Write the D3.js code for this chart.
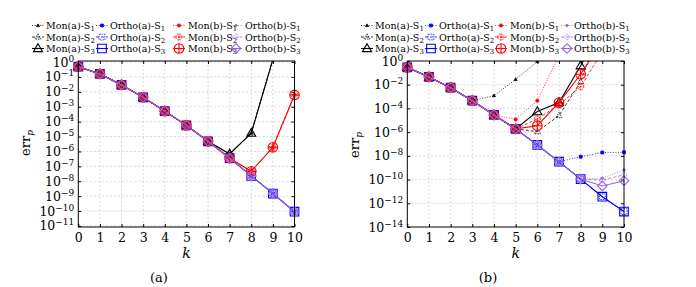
<!DOCTYPE html>
<html>
<head>
<meta charset="utf-8">
<script src="https://cdn.jsdelivr.net/npm/d3@7"></script>
<style>
  body { margin: 0; background: #fff; }
  svg { display: block; }
</style>
</head>
<body>
<script>
// k values on the x axis
const kVals = [0, 1, 2, 3, 4, 5, 6, 7, 8, 9, 10];
const methods = ["Mon(a)", "Ortho(a)", "Mon(b)", "Ortho(b)"];
const schemes = ["1", "2", "3"];

// panel (a): S1, S2, S3 lie on top of each other
const aMonA   = [0.49, 0.16, 0.029, 4.3e-3, 5.1e-4, 5.6e-5, 4.8e-6, 6.8e-7, 1.7e-5, 1.5, 1e3];
const aOrthoA = [0.49, 0.16, 0.029, 4.3e-3, 5.1e-4, 5.6e-5, 4.8e-6, 3.5e-7, 2.3e-8, 1.5e-9, 9e-11];
const aMonB   = [0.49, 0.16, 0.029, 4.3e-3, 5.1e-4, 5.6e-5, 4.8e-6, 3.5e-7, 4.7e-8, 1.9e-6, 6.2e-3];
const aOrthoB = [0.49, 0.16, 0.029, 4.3e-3, 5.1e-4, 5.6e-5, 4.8e-6, 3.5e-7, 2.3e-8, 1.5e-9, 9e-11];

// panel (b)
const bMonA_S1   = [0.29, 0.045, 5.6e-3, 4.5e-4, 1.2e-3, 0.028, 0.9, 40, 1e3, 1e4, 1e5];
const bMonA_S2   = [0.29, 0.045, 5.6e-3, 4.5e-4, 2.8e-5, 1.9e-6, 1.1e-6, 2.5e-5, 0.018, 2e3, 1e5];
const bMonA_S3   = [0.29, 0.045, 5.6e-3, 4.5e-4, 2.8e-5, 1.9e-6, 5.4e-5, 3.1e-4, 0.4, 1e3, 1e5];
const bOrthoA_S1 = [0.29, 0.045, 5.6e-3, 4.5e-4, 2.8e-5, 1.9e-6, 8.3e-8, 3.2e-9, 8.5e-9, 1.9e-8, 2e-8];
const bOrthoA_S2 = [0.29, 0.045, 5.6e-3, 4.5e-4, 2.8e-5, 1.9e-6, 8.3e-8, 3.2e-9, 1.1e-10, 3.6e-12, 2e-13];
const bOrthoA_S3 = [0.29, 0.045, 5.6e-3, 4.5e-4, 2.8e-5, 1.9e-6, 8.3e-8, 3.2e-9, 1.1e-10, 3.6e-12, 2e-13];
const bMonB_S1   = [0.29, 0.045, 5.6e-3, 4.5e-4, 2.8e-5, 1.2e-5, 4.5e-4, 3, 1e3, 1e4, 1e5];
const bMonB_S2   = [0.29, 0.045, 5.6e-3, 4.5e-4, 2.8e-5, 1.9e-6, 1.3e-5, 2e-4, 6.8e-3, 6, 1e3];
const bMonB_S3   = [0.29, 0.045, 5.6e-3, 4.5e-4, 2.8e-5, 1.9e-6, 3.5e-6, 3.1e-4, 0.076, 50, 1e4];
const bOrthoB_S1 = [0.29, 0.045, 5.6e-3, 4.5e-4, 2.8e-5, 1.9e-6, 8.3e-8, 3.2e-9, 1.1e-10, 1.3e-10, 6.5e-10];
const bOrthoB_S2 = [0.29, 0.045, 5.6e-3, 4.5e-4, 2.8e-5, 1.9e-6, 8.3e-8, 3.2e-9, 1.1e-10, 9e-11, 2.5e-10];
const bOrthoB_S3 = [0.29, 0.045, 5.6e-3, 4.5e-4, 2.8e-5, 1.9e-6, 8.3e-8, 3.2e-9, 1.1e-10, 2.9e-11, 8e-11];

// y tick exponents
const aTickExps = [0, -1, -2, -3, -4, -5, -6, -7, -8, -9, -10, -11];
const bTickExps = [0, -2, -4, -6, -8, -10, -12, -14];

const FONT = "DejaVu Serif";
const colors = { "Mon(a)": "#000000", "Ortho(a)": "#0000ff", "Mon(b)": "#ff0000", "Ortho(b)": "#9966dd" };
const shapes = { "Mon(a)": "tri", "Ortho(a)": "square", "Mon(b)": "oplus", "Ortho(b)": "diamond" };
const dashes = { "1": "1,1.6", "2": "3,2", "3": null };
const sizes = { "1": 1.6, "2": 3.2, "3": 4.8 };
const widths = { "1": 0.8, "2": 0.8, "3": 1.1 };

const W = 696, H = 287;
const svg = d3.select("body").append("svg").attr("width", W).attr("height", H)
  .attr("font-family", FONT);

function markerPath(shape, r) {
  const p = d3.path();
  if (shape === "tri") {
    p.moveTo(0, -r); p.lineTo(r * 0.95, r * 0.65); p.lineTo(-r * 0.95, r * 0.65); p.closePath();
  } else if (shape === "square") {
    const s = r * 0.9;
    p.rect(-s, -s, 2 * s, 2 * s);
  } else if (shape === "diamond") {
    p.moveTo(0, -r); p.lineTo(r, 0); p.lineTo(0, r); p.lineTo(-r, 0); p.closePath();
  } else if (shape === "oplus") {
    p.moveTo(r, 0); p.arc(0, 0, r, 0, 2 * Math.PI);
    p.moveTo(-r, 0); p.lineTo(r, 0); p.moveTo(0, -r); p.lineTo(0, r);
  }
  return p.toString();
}

function drawMarker(g, shape, s, x, y, color) {
  const r = sizes[s];
  const m = g.append("path")
    .attr("d", markerPath(shape, r))
    .attr("transform", `translate(${x},${y})`)
    .attr("stroke", color)
    .attr("stroke-width", s === "3" ? 1.1 : 0.8);
  if (s === "1") m.attr("fill", color);
  else m.attr("fill", "none");
  if (s === "2") m.attr("stroke-dasharray", "1.5,1");
}

function drawPanel(p) {
  const x = d3.scaleLinear().domain([0, 10]).range([p.x0, p.x1]);
  const y = d3.scaleLog().domain(p.yDomain).range([p.yBot, p.yTop]);
  const g = svg.append("g");
  const clipId = "clip-" + p.id;
  svg.append("clipPath").attr("id", clipId).append("rect")
    .attr("x", p.x0 - 8).attr("y", p.yTop).attr("width", p.x1 - p.x0 + 16).attr("height", p.yBot - p.yTop);

  // grid
  g.selectAll(".gx").data(kVals.slice(1, -1)).enter().append("line")
    .attr("x1", d => x(d)).attr("x2", d => x(d)).attr("y1", p.yTop).attr("y2", p.yBot)
    .attr("stroke", "#c8c8c8").attr("stroke-width", 0.7).attr("stroke-dasharray", "2,2");
  g.selectAll(".gy").data(p.ticks.filter(e => y(Math.pow(10, e)) > p.yTop + 1 && y(Math.pow(10, e)) < p.yBot - 1)).enter().append("line")
    .attr("x1", p.x0).attr("x2", p.x1).attr("y1", d => y(Math.pow(10, d))).attr("y2", d => y(Math.pow(10, d)))
    .attr("stroke", "#c8c8c8").attr("stroke-width", 0.7).attr("stroke-dasharray", "2,2");

  // ticks inside the frame
  const xAxisB = d3.axisBottom(x).tickValues(kVals).tickSize(-3).tickPadding(6).tickFormat(d3.format("d"));
  const xg = g.append("g").attr("transform", `translate(0,${p.yBot})`).call(xAxisB);
  xg.attr("font-family", FONT).attr("font-size", 12.5);
  xg.select(".domain").remove();
  const xAxisT = d3.axisTop(x).tickValues(kVals).tickSize(-3).tickFormat("");
  const xgt = g.append("g").attr("transform", `translate(0,${p.yTop})`).call(xAxisT);
  xgt.select(".domain").remove();

  const yTickVals = p.ticks.map(e => Math.pow(10, e));
  const ygl = g.append("g").attr("transform", `translate(${p.x0},0)`)
    .call(d3.axisLeft(y).tickValues(yTickVals).tickSize(-3).tickFormat(""));
  ygl.select(".domain").remove();
  const ygr = g.append("g").attr("transform", `translate(${p.x1},0)`)
    .call(d3.axisRight(y).tickValues(yTickVals).tickSize(-3).tickFormat(""));
  ygr.select(".domain").remove();

  // y tick labels 10^e
  p.ticks.forEach(e => {
    const t = g.append("text").attr("x", p.x0 - 4).attr("y", y(Math.pow(10, e)) + 4.5)
      .attr("text-anchor", "end").attr("font-family", FONT).attr("font-size", 12.5);
    t.append("tspan").text("10");
    t.append("tspan").attr("dy", -5).attr("font-size", 9).text(e === 0 ? "0" : "\u2212" + (-e));
  });

  // series, drawn S1 of every method, then S2, then S3
  const plot = g.append("g").attr("clip-path", `url(#${clipId})`);
  const line = d3.line().x((d, i) => x(kVals[i])).y(d => y(d));
  const yMax = p.yDomain[1];
  schemes.forEach(s => {
    methods.forEach(m => {
      const vals = p.series[m + "-S" + s];
      const c = colors[m];
      const path = plot.append("path").datum(vals).attr("d", line)
        .attr("fill", "none").attr("stroke", c).attr("stroke-width", widths[s]);
      if (dashes[s]) path.attr("stroke-dasharray", dashes[s]);
      vals.forEach((v, i) => {
        if (v <= yMax) drawMarker(plot, shapes[m], s, x(kVals[i]), y(v), c);
      });
    });
  });

  // frame
  g.append("rect").attr("x", p.x0).attr("y", p.yTop).attr("width", p.x1 - p.x0).attr("height", p.yBot - p.yTop)
    .attr("fill", "none").attr("stroke", "#000").attr("stroke-width", 1);

  // axis labels
  g.append("text").attr("x", (p.x0 + p.x1) / 2).attr("y", 258).attr("text-anchor", "middle")
    .attr("font-family", FONT).attr("font-size", 14).attr("font-style", "italic").text("k");
  const yl = g.append("text").attr("transform", `translate(${p.ylabX},${p.ylabY}) rotate(-90)`)
    .attr("text-anchor", "middle").attr("font-family", FONT).attr("font-size", 13);
  yl.append("tspan").text("err");
  yl.append("tspan").attr("dy", 3).attr("font-size", 9).attr("font-style", "italic").text("p");
  g.append("text").attr("x", p.capX).attr("y", 282).attr("text-anchor", "middle")
    .attr("font-family", FONT).attr("font-size", 13).text(p.caption);

  // legend: columns are methods, rows are schemes
  schemes.forEach((s, ri) => {
    const ly = 25.5 + ri * 11.5;
    methods.forEach((m, ci) => {
      const c = colors[m];
      const sx = p.legSample[ci];
      const l = g.append("line").attr("x1", sx).attr("x2", sx + 12).attr("y1", ly).attr("y2", ly)
        .attr("stroke", c).attr("stroke-width", widths[s]);
      if (dashes[s]) l.attr("stroke-dasharray", dashes[s]);
      drawMarker(g, shapes[m], s, sx + 6, ly, c);
      const t = g.append("text").attr("x", p.legText[ci]).attr("y", ly + 3.5)
        .attr("font-family", FONT).attr("font-size", 9.5);
      t.append("tspan").text(m + "-S");
      t.append("tspan").attr("dy", 2).attr("font-size", 7).text(s);
    });
  });
}

const seriesA = {};
methods.forEach(m => schemes.forEach(s => {
  seriesA[m + "-S" + s] = { "Mon(a)": aMonA, "Ortho(a)": aOrthoA, "Mon(b)": aMonB, "Ortho(b)": aOrthoB }[m];
}));
const seriesB = {
  "Mon(a)-S1": bMonA_S1, "Mon(a)-S2": bMonA_S2, "Mon(a)-S3": bMonA_S3,
  "Ortho(a)-S1": bOrthoA_S1, "Ortho(a)-S2": bOrthoA_S2, "Ortho(a)-S3": bOrthoA_S3,
  "Mon(b)-S1": bMonB_S1, "Mon(b)-S2": bMonB_S2, "Mon(b)-S3": bMonB_S3,
  "Ortho(b)-S1": bOrthoB_S1, "Ortho(b)-S2": bOrthoB_S2, "Ortho(b)-S3": bOrthoB_S3
};

drawPanel({
  id: "a", x0: 78.3, x1: 294.5, yTop: 61, yBot: 227,
  yDomain: [Math.pow(10, -11.07), Math.pow(10, 0.07)], ticks: aTickExps, series: seriesA,
  ylabX: 30, ylabY: 143, capX: 159, caption: "(a)",
  legSample: [32, 96, 173, 230], legText: [46, 110, 188, 245]
});
drawPanel({
  id: "b", x0: 407.3, x1: 624, yTop: 61, yBot: 227,
  yDomain: [1e-14, 1], ticks: bTickExps, series: seriesB,
  ylabX: 359, ylabY: 145, capX: 488, caption: "(b)",
  legSample: [361, 425, 495, 561], legText: [375, 439, 510, 574]
});
</script>
</body>
</html>
